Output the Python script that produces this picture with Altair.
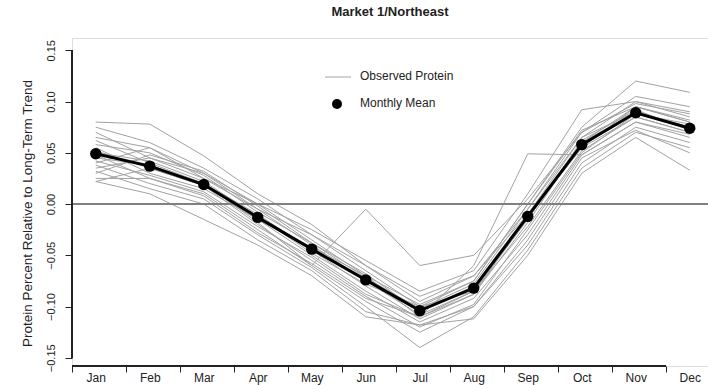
import altair as alt
import pandas as pd

months = ["Jan", "Feb", "Mar", "Apr", "May", "Jun", "Jul", "Aug", "Sep", "Oct", "Nov", "Dec"]
month_num = list(range(1, 13))

monthly_mean = [0.049, 0.037, 0.019, -0.013, -0.044, -0.074, -0.104, -0.082, -0.012, 0.058, 0.089, 0.074]

yr01 = [0.080, 0.078, 0.047, 0.010, -0.020, -0.060, -0.095, -0.070, -0.005, 0.070, 0.105, 0.095]
yr02 = [0.075, 0.060, 0.035, 0.005, -0.030, -0.065, -0.100, -0.075, 0.000, 0.075, 0.120, 0.109]
yr03 = [0.070, 0.045, 0.030, 0.000, -0.035, -0.070, -0.110, -0.085, -0.012, 0.055, 0.095, 0.080]
yr04 = [0.065, 0.055, 0.025, -0.005, -0.040, -0.075, -0.108, -0.085, -0.022, 0.052, 0.085, 0.070]
yr05 = [0.062, 0.040, 0.020, -0.010, -0.045, -0.080, -0.112, -0.088, -0.018, 0.060, 0.090, 0.075]
yr06 = [0.058, 0.050, 0.028, -0.008, -0.038, -0.068, -0.105, -0.080, -0.010, 0.065, 0.100, 0.085]
yr07 = [0.055, 0.030, 0.015, -0.015, -0.050, -0.085, -0.115, -0.092, -0.030, 0.048, 0.080, 0.065]
yr08 = [0.052, 0.035, 0.018, -0.020, -0.055, -0.090, -0.120, -0.098, -0.025, 0.050, 0.088, 0.078]
yr09 = [0.050, 0.042, 0.022, -0.012, -0.048, -0.078, -0.100, -0.085, -0.015, 0.062, 0.092, 0.072]
yr10 = [0.048, 0.025, 0.010, -0.025, -0.060, -0.095, -0.125, -0.100, -0.040, 0.040, 0.075, 0.060]
yr11 = [0.045, 0.038, 0.020, -0.018, -0.060, -0.005, -0.060, -0.050, 0.005, 0.070, 0.098, 0.088]
yr12 = [0.042, 0.028, 0.012, -0.022, -0.052, -0.088, -0.110, -0.060, 0.049, 0.048, 0.080, 0.068]
yr13 = [0.040, 0.055, 0.030, -0.005, -0.030, -0.060, -0.090, -0.070, -0.010, 0.060, 0.095, 0.080]
yr14 = [0.038, 0.020, 0.005, -0.030, -0.062, -0.100, -0.140, -0.110, -0.045, 0.035, 0.070, 0.055]
yr15 = [0.035, 0.045, 0.025, 0.000, -0.025, -0.055, -0.085, -0.065, 0.010, 0.092, 0.100, 0.090]
yr16 = [0.032, 0.015, 0.000, -0.035, -0.065, -0.105, -0.118, -0.112, -0.050, 0.030, 0.065, 0.033]
yr17 = [0.030, 0.048, 0.032, -0.002, -0.038, -0.072, -0.102, -0.078, -0.005, 0.065, 0.090, 0.075]
yr18 = [0.025, 0.025, 0.008, -0.028, -0.058, -0.092, -0.110, -0.088, -0.012, 0.055, 0.085, 0.070]
yr19 = [0.022, 0.035, 0.018, -0.015, -0.042, -0.070, -0.098, -0.075, 0.000, 0.072, 0.095, 0.082]
yr20 = [0.022, 0.010, -0.015, -0.040, -0.070, -0.110, -0.118, -0.100, -0.035, 0.045, 0.072, 0.050]

observed = [yr01, yr02, yr03, yr04, yr05, yr06, yr07, yr08, yr09, yr10,
            yr11, yr12, yr13, yr14, yr15, yr16, yr17, yr18, yr19, yr20]

y_ticks = [-0.15, -0.10, -0.05, 0.0, 0.05, 0.10, 0.15]

rows = []
for i, series in enumerate(observed):
    for m, v in zip(month_num, series):
        rows.append({"year": i + 1, "m": m, "v": v})
obs_df = pd.DataFrame(rows)
mean_df = pd.DataFrame({"m": month_num, "v": monthly_mean})

W, H = 636, 328
FONT = "Liberation Sans"
TXT = "#222222"

xscale = alt.Scale(domain=[0.56, 12.338], nice=False, zero=False)
yscale = alt.Scale(domain=[-0.158, 0.162], nice=False, zero=False)

label_expr = "[" + ",".join("'%s'" % m for m in months) + "][round(datum.value)-1]"

xenc = alt.X("m:Q", scale=xscale,
             axis=alt.Axis(values=month_num, labelExpr=label_expr, tickOffset=-24, labelOffset=24,
                           domain=False, grid=False, tickSize=6, tickColor=TXT, tickWidth=1,
                           labelFontSize=12, labelPadding=0, labelColor=TXT, labelFont=FONT,
                           title=None))
yenc = alt.Y("v:Q", scale=yscale,
             axis=alt.Axis(values=y_ticks, format=".2f", domain=False, grid=False,
                           tickSize=7, tickColor=TXT, tickWidth=1,
                           labelAngle=270, labelAlign="center", labelBaseline="bottom",
                           labelPadding=9, labelFontSize=11, labelColor=TXT, labelFont=FONT,
                           title="Protein Percent Relative to Long-Term Trend",
                           titleFontSize=13.5, titleFontWeight="normal", titleColor=TXT,
                           titleFont=FONT, titleAngle=270, titleAlign="center",
                           titleBaseline="bottom", titleX=-38, titleY=175))

gray = alt.Chart(obs_df).mark_line(color="#a2a2a2", strokeWidth=1).encode(
    x=xenc, y=yenc, detail="year:N")

zero = alt.Chart(mean_df).mark_rule(color="#808080", strokeWidth=1.5).encode(y=alt.datum(0))

mean_line = alt.Chart(mean_df).mark_line(color="black", strokeWidth=3).encode(x="m:Q", y="v:Q")
mean_pts = alt.Chart(mean_df).mark_point(filled=True, color="black", opacity=1, size=130).encode(
    x="m:Q", y="v:Q")

yaxis_line = alt.Chart(mean_df).mark_rule(color=TXT, strokeWidth=1).encode(
    x=alt.value(0), y=alt.datum(-0.15), y2=alt.datum(0.15))
xaxis_line = alt.Chart(mean_df).mark_rule(color=TXT, strokeWidth=1).encode(
    x=alt.datum(0.56), x2=alt.datum(11.56), y=alt.value(H))

leg_df = pd.DataFrame({"label": ["Observed Protein"]})
leg_df2 = pd.DataFrame({"label": ["Monthly Mean"]})
leg_line = alt.Chart(leg_df).mark_rule(color="#a2a2a2", strokeWidth=1).encode(
    x=alt.value(253), x2=alt.value(279), y=alt.value(39))
leg_txt1 = alt.Chart(leg_df).mark_text(align="left", baseline="middle", fontSize=12,
                                       font=FONT, color=TXT).encode(
    x=alt.value(288), y=alt.value(38), text="label:N")
leg_dot = alt.Chart(leg_df2).mark_point(filled=True, color="black", opacity=1, size=100).encode(
    x=alt.value(265), y=alt.value(66))
leg_txt2 = alt.Chart(leg_df2).mark_text(align="left", baseline="middle", fontSize=12,
                                        font=FONT, color=TXT).encode(
    x=alt.value(288), y=alt.value(65), text="label:N")

chart = alt.layer(gray, zero, mean_line, mean_pts, yaxis_line, xaxis_line,
                  leg_line, leg_txt1, leg_dot, leg_txt2).properties(
    width=W, height=H,
    title=alt.TitleParams("Market 1/Northeast", fontSize=13, fontWeight="bold", font=FONT,
                          color=TXT, anchor="middle", offset=19),
    autosize=alt.AutoSizeParams(type="none"),
    padding={"left": 72, "top": 38, "right": 0, "bottom": 19},
).configure_view(stroke=None).configure(background="white")

chart.save("out.html", embed_options={"renderer": "svg", "actions": False})
